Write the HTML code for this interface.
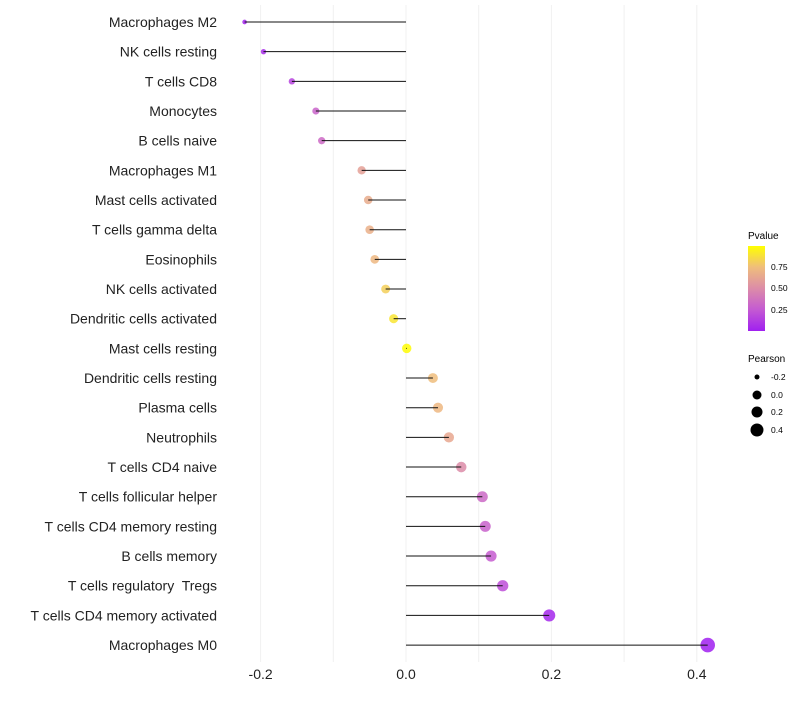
<!DOCTYPE html>
<html><head><meta charset="utf-8"><style>
body{margin:0;background:#fff;}
svg{font-family:"Liberation Sans",sans-serif;}
text{white-space:pre;}
</style></head><body>
<svg id="chart" width="800" height="700">
<defs><linearGradient id="pg" x1="0" y1="1" x2="0" y2="0">
<stop offset="0" stop-color="#A020F0"/><stop offset="0.25" stop-color="#C45AD2"/><stop offset="0.5" stop-color="#DC8CA8"/><stop offset="0.75" stop-color="#EFBD7C"/><stop offset="1" stop-color="#FFFF00"/></linearGradient></defs>
<g id="grid"></g><g id="marks"></g><g id="labels"></g>
<g>
<text x="748" y="239" font-size="10">Pvalue</text>
<rect x="748" y="246" width="17" height="85" fill="url(#pg)"/>
<text x="771" y="270" font-size="8.5">0.75</text>
<text x="771" y="291" font-size="8.5">0.50</text>
<text x="771" y="313" font-size="8.5">0.25</text>
</g>
<g>
<text x="748" y="362" font-size="10">Pearson</text>
<circle cx="757" cy="377" r="2.5"/>
<circle cx="757" cy="395" r="4.5"/>
<circle cx="757" cy="412" r="5.5"/>
<circle cx="757" cy="430" r="6.5"/>
<text x="771" y="380" font-size="8.5">-0.2</text>
<text x="771" y="398" font-size="8.5">0.0</text>
<text x="771" y="415" font-size="8.5">0.2</text>
<text x="771" y="433" font-size="8.5">0.4</text>
</g>
</svg>
<script>
const categories=["Macrophages M2","NK cells resting","T cells CD8","Monocytes","B cells naive","Macrophages M1","Mast cells activated","T cells gamma delta","Eosinophils","NK cells activated","Dendritic cells activated","Mast cells resting","Dendritic cells resting","Plasma cells","Neutrophils","T cells CD4 naive","T cells follicular helper","T cells CD4 memory resting","B cells memory","T cells regulatory  Tregs","T cells CD4 memory activated","Macrophages M0"];
const pearson=[-0.222,-0.196,-0.157,-0.124,-0.116,-0.061,-0.052,-0.050,-0.043,-0.028,-0.017,0.001,0.037,0.044,0.059,0.076,0.105,0.109,0.117,0.133,0.197,0.415];
const pvalue=[0.02,0.05,0.15,0.3,0.33,0.6,0.66,0.68,0.72,0.82,0.9,0.99,0.75,0.72,0.64,0.5,0.32,0.29,0.26,0.2,0.03,0.0];
const xTicks=[-0.2,0.0,0.2,0.4];
const xTickLabels=["-0.2","0.0","0.2","0.4"];
const NS="http://www.w3.org/2000/svg";
const xs=v=>406+v*727;
const ys=i=>22+i*29.67;
const rs=v=>Math.sqrt(Math.max(1.5,7+(v+0.2)/0.6*45));
const stops=[[0,[160,32,240]],[0.25,[196,90,210]],[0.5,[220,140,168]],[0.75,[239,189,124]],[1,[255,255,0]]];
function col(p){for(let k=1;k<stops.length;k++){if(p<=stops[k][0]){const a=stops[k-1],b=stops[k],t=(p-a[0])/(b[0]-a[0]);return "rgb("+a[1].map((c,j)=>Math.round(c+(b[1][j]-c)*t)).join(",")+")";}}return "rgb(255,255,0)";}
function mk(t,a,p){const e=document.createElementNS(NS,t);for(const k in a)e.setAttribute(k,a[k]);p.appendChild(e);return e;}
const grid=document.getElementById('grid'),marks=document.getElementById('marks'),labels=document.getElementById('labels');
for(let v=-0.2;v<=0.41;v+=0.1){const g=mk('line',{x1:xs(v),x2:xs(v),y1:5,y2:662,stroke:'#f0f0f0','stroke-width':1},grid);

}
xTicks.forEach((v,i)=>{const t=mk('text',{x:xs(v),y:679,'font-size':14,'text-anchor':'middle',fill:'#222'},labels);t.textContent=xTickLabels[i];

});
categories.forEach((c,i)=>{
const t=mk('text',{x:217,y:ys(i)+5,'font-size':14,'text-anchor':'end',fill:'#222'},labels);t.textContent=c;


const p=mk('circle',{cx:xs(pearson[i]),cy:ys(i),r:rs(pearson[i]),fill:col(pvalue[i]),'fill-opacity':0.85},marks);


const l=mk('line',{x1:xs(0),x2:xs(pearson[i]),y1:ys(i),y2:ys(i),stroke:'#111','stroke-width':1},marks);


});
</script>
</body></html>
